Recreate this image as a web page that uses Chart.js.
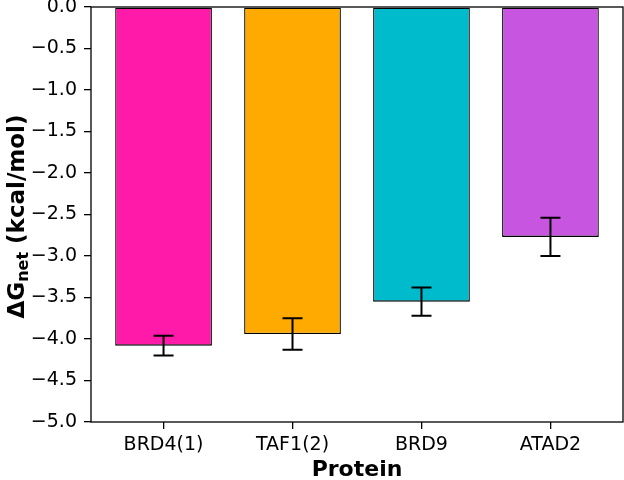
<!DOCTYPE html>
<html>
<head>
<meta charset="utf-8">
<script src="https://cdn.jsdelivr.net/npm/chart.js@4"></script>
<style>
html,body{margin:0;padding:0;background:#fff;}
#wrap{width:624px;height:480px;}
</style>
</head>
<body>
<div id="wrap"><canvas id="c" width="624" height="480"></canvas></div>
<script>
const categories = ["BRD4(1)", "TAF1(2)", "BRD9", "ATAD2"];
const values = [-4.08, -3.94, -3.55, -2.77];
const errors = [0.12, 0.19, 0.17, 0.23];
const colors = ["#FF1AAA", "#FFAA00", "#00BBCC", "#C855E0"];
const yTicks = [0.0, -0.5, -1.0, -1.5, -2.0, -2.5, -3.0, -3.5, -4.0, -4.5, -5.0];

const FONT = "'DejaVu Sans', sans-serif";

const errPlugin = {
  id: 'errbars',
  afterDatasetsDraw(chart) {
    const ctx = chart.ctx;
    const xs = chart.scales.x, ys = chart.scales.y;
    ctx.save();
    ctx.strokeStyle = '#000';
    ctx.lineWidth = 2;
    values.forEach((v, i) => {
      const x = xs.getPixelForValue(i);
      const y1 = ys.getPixelForValue(v + errors[i]);
      const y2 = ys.getPixelForValue(v - errors[i]);
      ctx.beginPath();
      ctx.moveTo(x, y1); ctx.lineTo(x, y2);
      ctx.moveTo(x - 10, y1); ctx.lineTo(x + 10, y1);
      ctx.moveTo(x - 10, y2); ctx.lineTo(x + 10, y2);
      ctx.stroke();
    });
    ctx.restore();
  },
  afterDraw(chart) {
    const ctx = chart.ctx;
    const a = chart.chartArea;
    ctx.save();
    ctx.strokeStyle = '#000';
    ctx.lineWidth = 1.3;
    ctx.strokeRect(a.left, a.top, a.right - a.left, a.bottom - a.top);
    // x title
    ctx.fillStyle = '#000';
    ctx.font = "bold 22px " + FONT;
    ctx.textAlign = 'center';
    ctx.textBaseline = 'middle';
    ctx.fillText("Protein", (a.left + a.right) / 2, 470);
    // y title with subscript
    ctx.translate(16, (a.top + a.bottom) / 2 + 2);
    ctx.rotate(-Math.PI / 2);
    const big = "bold 23px " + FONT, small = "bold 16px " + FONT;
    const p1 = "ΔG", p2 = "net", p3 = " (kcal/mol)";
    ctx.font = big; const w1 = ctx.measureText(p1).width;
    ctx.font = small; const w2 = ctx.measureText(p2).width;
    ctx.font = big; const w3 = ctx.measureText(p3).width;
    let x0 = -(w1 + w2 + w3) / 2;
    ctx.textAlign = 'left';
    ctx.textBaseline = 'alphabetic';
    const base = 8;
    ctx.font = big; ctx.fillText(p1, x0, base); x0 += w1;
    ctx.font = small; ctx.fillText(p2, x0, base + 4); x0 += w2;
    ctx.font = big; ctx.fillText(p3, x0, base);
    ctx.restore();
  }
};

new Chart(document.getElementById('c'), {
  type: 'bar',
  data: {
    datasets: [{
      data: values.map((v, i) => ({x: i, y: v})),
      backgroundColor: colors,
      borderColor: '#000',
      borderWidth: 1.3,
      borderSkipped: false,
      barPercentage: 0.75,
      categoryPercentage: 1.0
    }]
  },
  options: {
    responsive: false,
    animation: false,
    layout: {padding: {top: 7, right: 1, left: 0, bottom: 0}},
    plugins: {legend: {display: false}, tooltip: {enabled: false}},
    scales: {
      x: {
        type: 'linear',
        min: -0.5625,
        max: 3.5625,
        offset: false,
        afterFit(s) { s.height = 58; s.paddingLeft = 0; s.paddingRight = 0; },
        afterBuildTicks(s) { s.ticks = categories.map((c, i) => ({value: i})); },
        ticks: {
          callback: (v) => categories[v],
          color: '#000',
          font: {family: FONT, size: 19},
          padding: 5,
          maxRotation: 0,
          autoSkip: false
        },
        grid: {display: true, offset: false, drawOnChartArea: false, drawTicks: true, tickLength: 7, color: '#000', lineWidth: 1.3},
        border: {display: false}
      },
      y: {
        min: -5,
        max: 0,
        afterFit(s) { s.width = 91; s.paddingTop = 0; s.paddingBottom = 0; },
        afterBuildTicks(s) { s.ticks = yTicks.map(v => ({value: v})); },
        ticks: {
          callback: (v) => (v < 0 ? '\u2212' : '') + Math.abs(v).toFixed(1),
          color: '#000',
          font: {family: FONT, size: 19},
          padding: 7
        },
        grid: {display: true, drawOnChartArea: false, drawTicks: true, tickLength: 7, color: '#000', lineWidth: 1.3},
        border: {display: false}
      }
    }
  },
  plugins: [errPlugin]
});
</script>
</body>
</html>
